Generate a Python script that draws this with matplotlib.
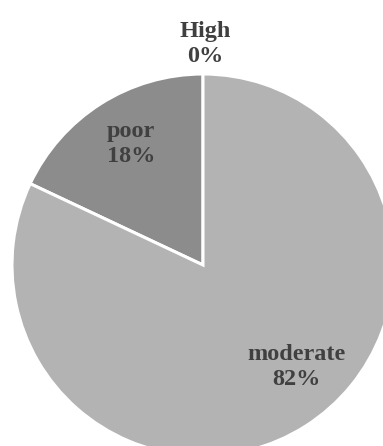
import matplotlib.pyplot as plt

labels = ['High', 'poor', 'moderate']
values = [0, 18, 82]
colors = ['#dcdcdc', '#8c8c8c', '#b3b3b3']

fig = plt.figure(figsize=(3.83, 4.46), dpi=100)
ax = fig.add_axes([0, 0, 1, 1])

cx, cy, r = 203, 181, 191
wedges, _ = ax.pie(values, colors=colors, startangle=90, counterclock=True,
                   center=(cx, cy), radius=r,
                   wedgeprops=dict(edgecolor='white', linewidth=2.2))

ax.set_xlim(0, 383)
ax.set_ylim(0, 446)
ax.set_aspect('equal')
ax.axis('off')

font = dict(family='Liberation Serif', weight='bold', size=17.5, color='#404040',
            ha='center', va='center', linespacing=1.2)
# label positions (offset from pie centre, in pixels)
pos = [(2, 221), (-72, 121), (93, -102)]
for lab, v, (dx, dy) in zip(labels, values, pos):
    ax.text(cx + dx, cy + dy, f'{lab}\n{v}%', **font)

plt.savefig('out.png', dpi=100)
plt.close()
